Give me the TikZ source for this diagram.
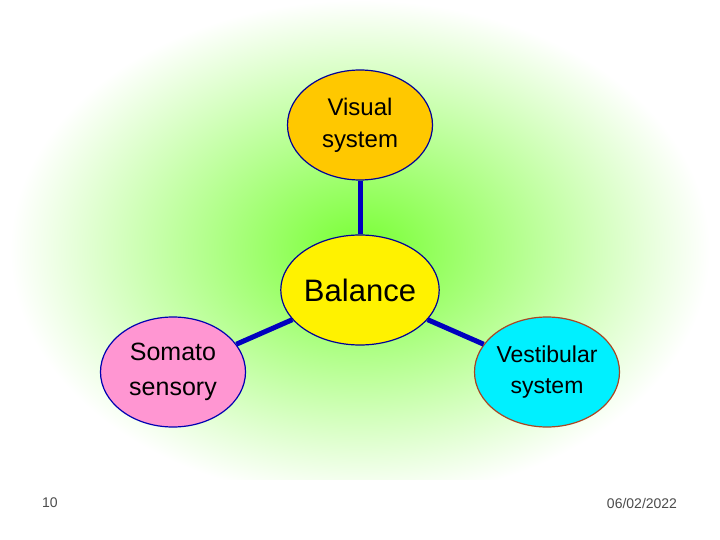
\documentclass[tikz,border=0pt]{standalone}
\usepackage{fontspec}
\setmainfont{Liberation Sans}
\usetikzlibrary{shapes.geometric}
\definecolor{cyanb}{RGB}{0,240,255}
\definecolor{pinkb}{RGB}{255,150,210}
\definecolor{orb}{RGB}{255,200,0}
\begin{document}
\begin{tikzpicture}[x=1pt,y=-1pt,
  bub/.style={ellipse,minimum width=145pt,minimum height=110pt,line width=1.2pt,align=center,inner sep=0pt},
  link/.style={draw=blue!75!black,line width=5pt},
  foot/.style={font=\fontsize{14}{16}\selectfont,text=black!70}]
\useasboundingbox (0,0) rectangle (720,540);
\shade[inner color=green!55!lime!80, outer color=white] (10,0) rectangle (710,500);
\fill[white] (0,480) rectangle (720,540);
\node[bub,fill=orb,draw=blue!60!black,font=\fontsize{24}{32}\selectfont] (vis) at (360,125) {Visual\\system};
\node[bub,fill=yellow,draw=blue!60!black,font=\fontsize{31}{36}\selectfont] (bal) at (360,290) {Balance};
\node[bub,fill=pinkb,draw=blue!70!black,font=\fontsize{25}{35}\selectfont] (som) at (173,372) {Somato\\sensory};
\node[bub,fill=cyanb,draw=brown!70!red!80!black,font=\fontsize{23}{31}\selectfont] (ves) at (547,372) {Vestibular\\system};
\draw[link] (vis) -- (bal);
\draw[link] (bal) -- (som);
\draw[link] (bal) -- (ves);
\node[foot] (n10) at (50,503) {10};
\node[foot] (dt) at (642,503) {06/02/2022};
\end{tikzpicture}
\end{document}
